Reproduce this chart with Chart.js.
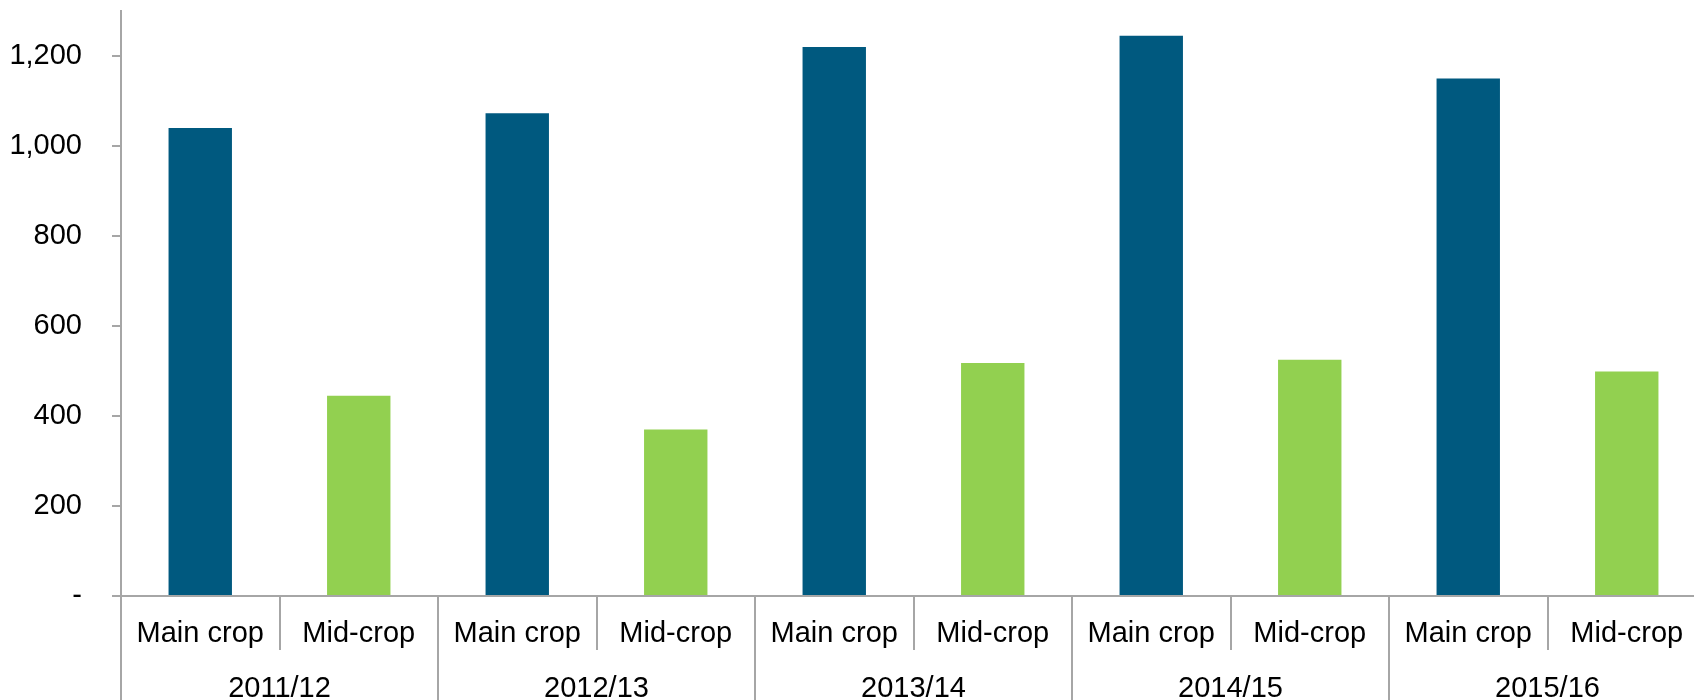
<!DOCTYPE html>
<html>
<head>
<meta charset="utf-8">
<script src="https://cdn.jsdelivr.net/npm/chart.js@4/dist/chart.umd.min.js"></script>
<style>
  html, body { margin: 0; padding: 0; background: #fff; overflow: hidden; }
  #wrap { width: 1706px; height: 700px; }
</style>
</head>
<body>
<div id="wrap"><canvas id="chart"></canvas></div>
<script>
// data
const years = ["2011/12", "2012/13", "2013/14", "2014/15", "2015/16"];
const crops = ["Main crop", "Mid-crop"];
const mainCrop = [1040, 1073, 1220, 1245, 1150];
const midCrop = [445, 370, 518, 525, 499];
const cropColors = ["#00597F", "#92D050"];

const FONT = "'Liberation Sans', Arial, sans-serif";
const FONT_SIZE = 29;
const AXIS_GREY = "#a6a6a6";

// flatten into one bar per crop per year
const labels = [];
const values = [];
const colors = [];
years.forEach((y, i) => {
  labels.push(crops[0], crops[1]);
  values.push(mainCrop[i], midCrop[i]);
  colors.push(cropColors[0], cropColors[1]);
});

// separators + year labels under the axis
const groupAxis = {
  id: "groupAxis",
  afterDraw(chart) {
    const ctx = chart.ctx;
    const x = chart.scales.x;
    const area = chart.chartArea;
    const H = chart.height;
    const half = (x.getPixelForValue(1) - x.getPixelForValue(0)) / 2;
    ctx.save();
    ctx.strokeStyle = AXIS_GREY;
    ctx.lineWidth = 2;
    for (let i = 0; i <= labels.length; i++) {
      const px = Math.round(x.getPixelForValue(i) - half);
      const isYear = i % 2 === 0;
      ctx.beginPath();
      ctx.moveTo(px, area.bottom);
      ctx.lineTo(px, isYear ? H : area.bottom + 54);
      ctx.stroke();
    }
    ctx.fillStyle = "#000";
    ctx.font = FONT_SIZE + "px " + FONT;
    ctx.textAlign = "center";
    ctx.textBaseline = "alphabetic";
    years.forEach((y, i) => {
      const cx = (x.getPixelForValue(i * 2) + x.getPixelForValue(i * 2 + 1)) / 2;
      ctx.fillText(y, cx, 697);
    });
    ctx.restore();
  },
};

new Chart(document.getElementById("chart"), {
  type: "bar",
  data: {
    labels: labels,
    datasets: [
      {
        data: values,
        backgroundColor: colors,
        borderWidth: 0,
        categoryPercentage: 1.0,
        barPercentage: 0.4,
      },
    ],
  },
  options: {
    responsive: true,
    maintainAspectRatio: false,
    animation: false,
    layout: { padding: { top: 11, right: 0, left: 0, bottom: 0 } },
    plugins: {
      legend: { display: false },
      tooltip: { enabled: false },
    },
    scales: {
      x: {
        grid: { display: false, drawTicks: false },
        border: { display: true, color: AXIS_GREY, width: 2 },
        ticks: {
          color: "#000",
          font: { family: FONT, size: FONT_SIZE },
          padding: 21,
          maxRotation: 0,
          autoSkip: false,
        },
        afterFit(scale) {
          scale.height = 104;
          scale.paddingLeft = 0;
          scale.paddingRight = 0;
        },
      },
      y: {
        min: 0,
        max: 1300,
        grid: { drawOnChartArea: false, tickLength: 9, color: AXIS_GREY, lineWidth: 2 },
        border: { display: true, color: AXIS_GREY, width: 2 },
        ticks: {
          stepSize: 200,
          color: "#000",
          font: { family: FONT, size: FONT_SIZE },
          padding: 30,
          callback: (v) => (v === 0 ? "-" : v.toLocaleString("en-US")),
        },
        afterBuildTicks(scale) {
          scale.ticks = scale.ticks.filter((t) => t.value % 200 === 0);
        },
        afterFit(scale) {
          scale.width = 121;
          scale.paddingTop = 0;
          scale.paddingBottom = 0;
        },
      },
    },
  },
  plugins: [groupAxis],
});
</script>
</body>
</html>
